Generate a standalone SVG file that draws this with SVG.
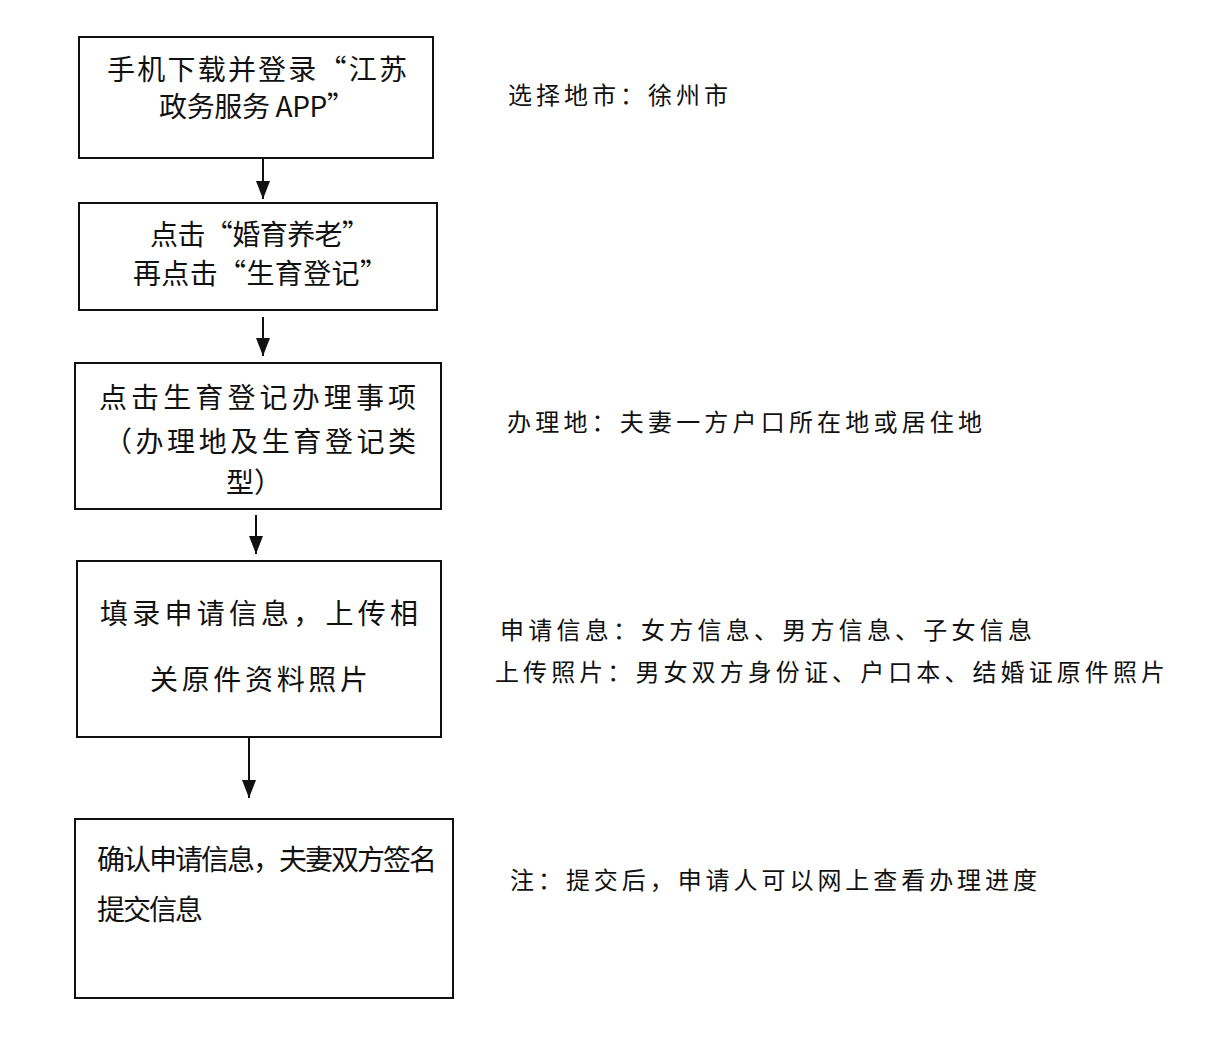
<svg xmlns="http://www.w3.org/2000/svg" width="1210" height="1056" viewBox="0 0 1210 1056">
<defs>
<style>
.box{fill:#ffffff;stroke:#111;stroke-width:2}
.t{font-family:"Noto Sans CJK SC","Noto Sans",sans-serif;fill:#111;font-size:28px;dominant-baseline:central}
.n{font-family:"Noto Sans CJK SC","Noto Sans",sans-serif;fill:#111;font-size:24px;dominant-baseline:central}
.c{stroke:#111;stroke-width:2;fill:none}
</style>
<marker id="ah" viewBox="0 0 18 14" refX="18" refY="7" markerWidth="18" markerHeight="14" markerUnits="userSpaceOnUse" orient="auto">
<path d="M0,0 L18,7 L0,14 z" fill="#111"/>
</marker>
</defs>
<rect width="1210" height="1056" fill="#ffffff"/>
<g id="connectors">
<line class="c" x1="263" y1="158" x2="263" y2="199" marker-end="url(#ah)"/>
<line class="c" x1="263" y1="317" x2="263" y2="356" marker-end="url(#ah)"/>
<line class="c" x1="256" y1="515" x2="256" y2="554" marker-end="url(#ah)"/>
<line class="c" x1="249" y1="738" x2="249" y2="798" marker-end="url(#ah)"/>
</g>
<g id="n1">
<rect class="box" x="79" y="37" width="354" height="121"/>
<text class="t" x="107" y="68" textLength="300" lengthAdjust="spacing">手机下载并登录“江苏</text>
<text class="t" x="159" y="105" textLength="196" lengthAdjust="spacing">政务服务 APP”</text>
</g>
<g id="n2">
<rect class="box" x="79" y="203" width="358" height="107"/>
<text class="t" x="150" y="233" textLength="220" lengthAdjust="spacing">点击“婚育养老”</text>
<text class="t" x="133" y="272" textLength="255" lengthAdjust="spacing">再点击“生育登记”</text>
</g>
<g id="n3">
<rect class="box" x="75" y="363" width="366" height="146"/>
<text class="t" x="99" y="396" textLength="317" lengthAdjust="spacing">点击生育登记办理事项</text>
<text class="t" x="104" y="440" textLength="312" lengthAdjust="spacing">（办理地及生育登记类</text>
<text class="t" x="226" y="481" textLength="56" lengthAdjust="spacing">型）</text>
</g>
<g id="n4">
<rect class="box" x="77" y="561" width="364" height="176"/>
<text class="t" x="100" y="612" textLength="318" lengthAdjust="spacing">填录申请信息，上传相</text>
<text class="t" x="150" y="678" textLength="218" lengthAdjust="spacing">关原件资料照片</text>
</g>
<g id="n5">
<rect class="box" x="75" y="819" width="378" height="179"/>
<text class="t" x="97" y="858" textLength="340" lengthAdjust="spacing">确认申请信息，夫妻双方签名</text>
<text class="t" x="97" y="908" textLength="106" lengthAdjust="spacing">提交信息</text>
</g>
<g id="notes">
<text class="n" x="508" y="93" textLength="220" lengthAdjust="spacing">选择地市：徐州市</text>
<text class="n" x="507" y="420" textLength="475" lengthAdjust="spacing">办理地：夫妻一方户口所在地或居住地</text>
<text class="n" x="500" y="628" textLength="532" lengthAdjust="spacing">申请信息：女方信息、男方信息、子女信息</text>
<text class="n" x="495" y="670" textLength="670" lengthAdjust="spacing">上传照片：男女双方身份证、户口本、结婚证原件照片</text>
<text class="n" x="510" y="878" textLength="527" lengthAdjust="spacing">注：提交后，申请人可以网上查看办理进度</text>
</g>
</svg>
